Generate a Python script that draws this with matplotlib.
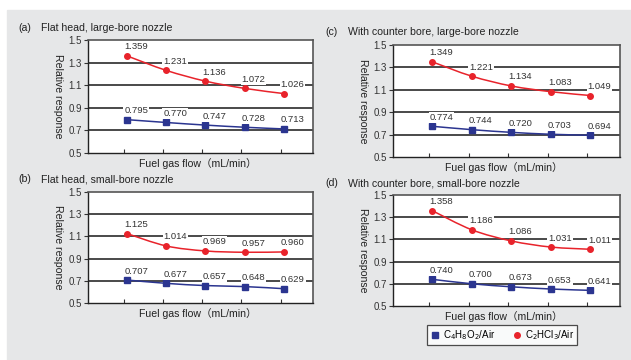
import matplotlib
matplotlib.use('Agg')
import matplotlib.pyplot as plt
from matplotlib.path import Path
from matplotlib.patches import PathPatch, Rectangle
from matplotlib.lines import Line2D
import numpy as np

plt.rcParams['font.family'] = ['Liberation Sans', 'Noto Sans CJK JP', 'DejaVu Sans']

# --- data ---
flow_steps = [1, 2, 3, 4, 5]
titles = ['Flat head, large-bore nozzle', 'Flat head, small-bore nozzle',
          'With counter bore, large-bore nozzle', 'With counter bore, small-bore nozzle']
letters = ['(a)', '(b)', '(c)', '(d)']
c4h8o2 = [
    [0.795, 0.770, 0.747, 0.728, 0.713],
    [0.707, 0.677, 0.657, 0.648, 0.629],
    [0.774, 0.744, 0.720, 0.703, 0.694],
    [0.740, 0.700, 0.673, 0.653, 0.641],
]
c2hcl3 = [
    [1.359, 1.231, 1.136, 1.072, 1.026],
    [1.125, 1.014, 0.969, 0.957, 0.960],
    [1.349, 1.221, 1.134, 1.083, 1.049],
    [1.358, 1.186, 1.086, 1.031, 1.011],
]
y_ticks = [0.5, 0.7, 0.9, 1.1, 1.3, 1.5]
legend_labels = [r'C$_4$H$_8$O$_2$/Air', r'C$_2$HCl$_3$/Air']

RED = '#e8232b'
BLUE = '#2b3590'
BG = '#e6e7e8'
W, H = 631, 360

# panel boxes in pixels: left, right, top, bottom
boxes = [(88, 313, 40, 153), (88, 313, 192, 303),
         (393, 620, 45, 157), (393, 620, 195, 306)]
title_y = [28, 179, 32, 183]


def smooth_path(xs, ys):
    # Catmull-Rom style bezier through the points (like spreadsheet smoothed lines)
    p = np.column_stack([xs, ys]).astype(float)
    ext = np.vstack([p[0], p, p[-1]])
    verts = [p[0]]
    codes = [Path.MOVETO]
    for i in range(len(p) - 1):
        a, b, c, d = ext[i], ext[i + 1], ext[i + 2], ext[i + 3]
        verts += [b + (c - a) / 6, c - (d - b) / 6, c]
        codes += [Path.CURVE4] * 3
    return Path(verts, codes)


fig = plt.figure(figsize=(W / 100, H / 100), dpi=100)
fig.patches.append(Rectangle((7 / W, 0), 1, (H - 10) / H,
                             transform=fig.transFigure, color=BG, zorder=-10))

for k in range(4):
    l, r, t, b = boxes[k]
    ax = fig.add_axes([l / W, 1 - b / H, (r - l) / W, (b - t) / H])
    ax.set_facecolor('white')
    ax.set_xlim(0, 5.75)
    ax.set_ylim(0.5, 1.5)
    ax.set_yticks(y_ticks)
    ax.set_yticklabels([f'{v:.1f}' for v in y_ticks])
    ax.set_xticks([x - 0.08 for x in flow_steps])
    ax.set_xticklabels([])
    ax.tick_params(axis='x', direction='in', length=3, width=0.8, color='#333333')
    ax.tick_params(axis='y', direction='out', length=3, width=0.8, color='#333333',
                   labelsize=7, pad=1.5, labelcolor='#333333')
    for y in y_ticks[1:-1]:
        ax.axhline(y, color='#3a3a3a', lw=1.3, zorder=1)
    for s in ['left', 'bottom']:
        ax.spines[s].set_color('#222222')
        ax.spines[s].set_linewidth(1.0)
    for s in ['top', 'right']:
        ax.spines[s].set_color('#555555')
        ax.spines[s].set_linewidth(1.2)

    for vals, col, mk in [(c4h8o2[k], BLUE, 's'), (c2hcl3[k], RED, 'o')]:
        ax.add_patch(PathPatch(smooth_path(flow_steps, vals), fill=False,
                               edgecolor=col, lw=1.1, zorder=3))
        ax.plot(flow_steps, vals, ls='none', marker=mk, color=col, ms=4, zorder=4)
        for x, v in zip(flow_steps, vals):
            ax.annotate(f'{v:.3f}', (x, v), xytext=(9, 9), textcoords='offset pixels',
                        ha='center', va='center', fontsize=6.8, color='#333333', zorder=5,
                        bbox=dict(boxstyle='square,pad=0.1', fc='white', ec='none'))

    # titles and labels
    lx = 18 if l < 200 else 325
    fig.text(lx / W, 1 - title_y[k] / H, letters[k], fontsize=7.6, va='center', color='#222222')
    fig.text((lx + 23) / W, 1 - title_y[k] / H, titles[k], fontsize=7.6, va='center', color='#222222')
    fig.text((l + r) / 2 / W - 0.005, 1 - (b + 10) / H, 'Fuel gas flow（mL/min）',
             fontsize=7.6, ha='center', va='center', color='#222222')
    fig.text((l - 30) / W, 1 - (t + b) / 2 / H, 'Relative response', rotation=-90,
             fontsize=7.6, ha='center', va='center', color='#222222')

# legend
handles = [Line2D([], [], ls='none', marker='s', color=BLUE, ms=4),
           Line2D([], [], ls='none', marker='o', color=RED, ms=4)]
leg = fig.legend(handles, legend_labels, loc='center', bbox_to_anchor=(502 / W, 1 - 335 / H),
                 ncol=2, fontsize=7, frameon=True, fancybox=False, edgecolor='#222222',
                 handletextpad=0.3, columnspacing=1.6, borderpad=0.3, handlelength=1.1)
leg.get_frame().set_linewidth(0.9)

fig.savefig('out.png', dpi=100, facecolor='white')
